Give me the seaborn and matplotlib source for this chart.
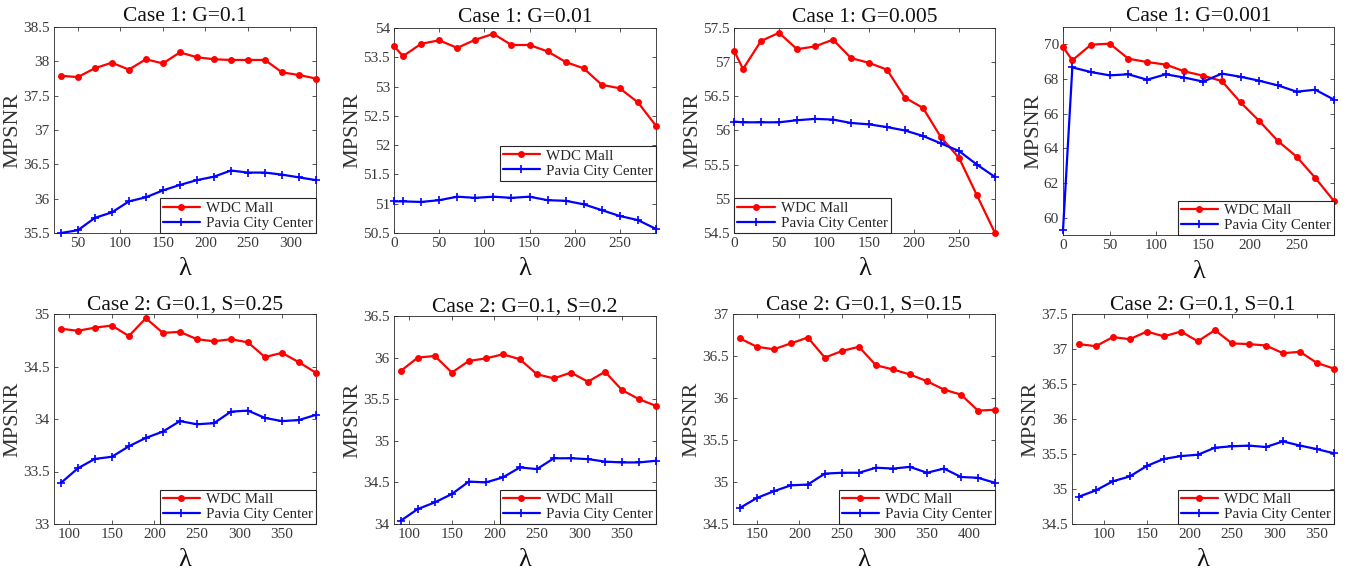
import numpy as np
import pandas as pd
import matplotlib
matplotlib.use("Agg")
import matplotlib.pyplot as plt
from matplotlib.ticker import FuncFormatter
import seaborn as sns

# ---------------- data ----------------
titles = ["Case 1: G=0.1", "Case 1: G=0.01", "Case 1: G=0.005", "Case 1: G=0.001",
          "Case 2: G=0.1, S=0.25", "Case 2: G=0.1, S=0.2", "Case 2: G=0.1, S=0.15", "Case 2: G=0.1, S=0.1"]
series_names = ["WDC Mall", "Pavia City Center"]

lam_p1 = [30, 50, 70, 90, 110, 130, 150, 170, 190, 210, 230, 250, 270, 290, 310, 330]
lam_p2 = [0, 10, 30, 50, 70, 90, 110, 130, 150, 170, 190, 210, 230, 250, 270, 290]
lam_p3 = lam_p2
lam_p4 = lam_p2
lam_p5 = [90, 110, 130, 150, 170, 190, 210, 230, 250, 270, 290, 310, 330, 350, 370, 390]
lam_p6 = lam_p5
lam_p7 = [130, 150, 170, 190, 210, 230, 250, 270, 290, 310, 330, 350, 370, 390, 410, 430]
lam_p8 = [70, 90, 110, 130, 150, 170, 190, 210, 230, 250, 270, 290, 310, 330, 350, 370]

wdc_p1 = [37.79, 37.77, 37.90, 37.98, 37.88, 38.03, 37.97, 38.13, 38.06, 38.03, 38.02, 38.02, 38.02, 37.84, 37.80, 37.75]
pav_p1 = [35.50, 35.54, 35.72, 35.80, 35.96, 36.02, 36.12, 36.20, 36.27, 36.32, 36.41, 36.38, 36.38, 36.35, 36.31, 36.27]
wdc_p2 = [53.69, 53.52, 53.73, 53.79, 53.66, 53.80, 53.90, 53.71, 53.71, 53.60, 53.42, 53.31, 53.03, 52.97, 52.73, 52.33]
pav_p2 = [51.04, 51.04, 51.03, 51.06, 51.12, 51.10, 51.12, 51.10, 51.12, 51.06, 51.05, 50.99, 50.89, 50.79, 50.72, 50.57]
wdc_p3 = [57.17, 56.90, 57.31, 57.43, 57.19, 57.23, 57.33, 57.06, 56.99, 56.89, 56.48, 56.33, 55.90, 55.60, 55.05, 54.50]
pav_p3 = [56.13, 56.12, 56.12, 56.12, 56.15, 56.17, 56.16, 56.11, 56.09, 56.05, 56.00, 55.92, 55.81, 55.70, 55.50, 55.32]
wdc_p4 = [69.85, 69.08, 69.98, 70.04, 69.17, 68.98, 68.83, 68.44, 68.19, 67.88, 66.65, 65.58, 64.42, 63.52, 62.29, 60.96]
pav_p4 = [59.27, 68.67, 68.40, 68.21, 68.27, 67.96, 68.27, 68.08, 67.85, 68.31, 68.13, 67.90, 67.63, 67.27, 67.38, 66.81]
wdc_p5 = [34.86, 34.84, 34.87, 34.89, 34.79, 34.96, 34.82, 34.83, 34.76, 34.74, 34.76, 34.73, 34.59, 34.63, 34.54, 34.44]
pav_p5 = [33.39, 33.53, 33.62, 33.64, 33.74, 33.82, 33.88, 33.98, 33.95, 33.96, 34.07, 34.08, 34.01, 33.98, 33.99, 34.04]
wdc_p6 = [35.84, 36.00, 36.02, 35.82, 35.96, 35.99, 36.04, 35.98, 35.80, 35.75, 35.82, 35.71, 35.83, 35.61, 35.50, 35.42]
pav_p6 = [34.04, 34.18, 34.26, 34.36, 34.51, 34.50, 34.56, 34.68, 34.66, 34.79, 34.79, 34.78, 34.75, 34.74, 34.74, 34.76]
wdc_p7 = [36.71, 36.61, 36.58, 36.65, 36.72, 36.48, 36.56, 36.61, 36.39, 36.34, 36.28, 36.20, 36.10, 36.04, 35.85, 35.86]
pav_p7 = [34.69, 34.81, 34.89, 34.96, 34.97, 35.10, 35.11, 35.11, 35.17, 35.16, 35.18, 35.11, 35.16, 35.06, 35.05, 34.99]
wdc_p8 = [37.07, 37.04, 37.17, 37.14, 37.25, 37.18, 37.25, 37.11, 37.27, 37.08, 37.07, 37.05, 36.94, 36.96, 36.80, 36.72]
pav_p8 = [34.89, 34.98, 35.11, 35.18, 35.33, 35.43, 35.47, 35.49, 35.59, 35.61, 35.62, 35.60, 35.68, 35.62, 35.57, 35.51]

xticks_list = [[50, 100, 150, 200, 250, 300], [0, 50, 100, 150, 200, 250], [0, 50, 100, 150, 200, 250],
               [0, 50, 100, 150, 200, 250], [100, 150, 200, 250, 300, 350], [100, 150, 200, 250, 300, 350],
               [150, 200, 250, 300, 350, 400], [100, 150, 200, 250, 300, 350]]
yticks_list = [[35.5, 36, 36.5, 37, 37.5, 38, 38.5], [50.5, 51, 51.5, 52, 52.5, 53, 53.5, 54],
               [54.5, 55, 55.5, 56, 56.5, 57, 57.5], [60, 62, 64, 66, 68, 70],
               [33, 33.5, 34, 34.5, 35], [34, 34.5, 35, 35.5, 36, 36.5],
               [34.5, 35, 35.5, 36, 36.5, 37], [34.5, 35, 35.5, 36, 36.5, 37, 37.5]]
ylims = [(35.5, 38.5), (50.5, 54), (54.5, 57.5), (59, 71), (33, 35), (34, 36.5), (34.5, 37), (34.5, 37.5)]
xlims = [(22, 330), (0, 290), (0, 290), (0, 290), (82, 390), (82, 390), (122, 430), (62, 370)]

lams = [lam_p1, lam_p2, lam_p3, lam_p4, lam_p5, lam_p6, lam_p7, lam_p8]
wdcs = [wdc_p1, wdc_p2, wdc_p3, wdc_p4, wdc_p5, wdc_p6, wdc_p7, wdc_p8]
pavs = [pav_p1, pav_p2, pav_p3, pav_p4, pav_p5, pav_p6, pav_p7, pav_p8]

# ---------------- style ----------------
sns.set_style("ticks")
plt.rcParams["font.family"] = ["Liberation Serif", "DejaVu Serif"]

W, H = 1349, 575
fig = plt.figure(figsize=(W / 100, H / 100), dpi=100)

# axes boxes in pixels: (left, top, right, bottom)
boxes = [(54, 27, 316, 233), (394, 28, 656, 233), (734, 28, 995, 233), (1063, 27, 1334, 235),
         (54, 314, 316, 524), (394, 316, 656, 524), (733, 314, 995, 524), (1072, 314, 1334, 524)]

legend_locs = [("lower right", None), ("lower right", (1.0, 0.255)), ("lower left", None), ("lower right", None),
               ("lower right", None), ("lower right", None), ("lower right", None), ("lower right", None)]

fmt = FuncFormatter(lambda v, p: f"{v:g}")
tick_col = "#3a3a3a"

for i in range(8):
    l, t, r, b = boxes[i]
    ax = fig.add_axes([l / W, 1 - b / H, (r - l) / W, (b - t) / H])
    df_w = pd.DataFrame({"lam": lams[i], "val": wdcs[i]})
    df_p = pd.DataFrame({"lam": lams[i], "val": pavs[i]})
    sns.lineplot(data=df_w, x="lam", y="val", color="#ff0000", linestyle="-",
                 marker="o", markersize=5, markeredgewidth=0, markeredgecolor="#ff0000",
                 linewidth=1.6, ax=ax, label=series_names[0], clip_on=False, zorder=3)
    sns.lineplot(data=df_p, x="lam", y="val", color="#0000ff", linestyle="-",
                 marker="+", markersize=5.5, markeredgewidth=1.2, markeredgecolor="#0000ff",
                 linewidth=1.6, ax=ax, label=series_names[1], clip_on=False, zorder=3)
    ax.set_xlim(*xlims[i])
    ax.set_ylim(*ylims[i])
    ax.set_xticks(xticks_list[i])
    ax.set_yticks(yticks_list[i])
    ax.yaxis.set_major_formatter(fmt)
    ax.tick_params(direction="in", top=True, right=True, length=3, width=0.6,
                   labelsize=11, colors=tick_col, labelcolor=tick_col, pad=3)
    for s in ax.spines.values():
        s.set_visible(True)
        s.set_color("#262626")
        s.set_linewidth(0.6)
    ax.set_title(titles[i], fontsize=15.5, pad=4 if i < 4 else 3, color="#111111")
    ax.set_xlabel("λ", fontsize=19, labelpad=6, color="#111111")
    ax.set_ylabel("MPSNR", fontsize=16, labelpad=0.5, color="#333333")
    loc, anchor = legend_locs[i]
    kw = dict(loc=loc, fontsize=10.8, frameon=True, fancybox=False, edgecolor="#262626",
              borderpad=0.2, labelspacing=0.1, handlelength=2.5, handletextpad=0.4,
              borderaxespad=0.0)
    if anchor is not None:
        kw["bbox_to_anchor"] = anchor
    leg = ax.legend(**kw)
    leg.get_frame().set_linewidth(0.8)
    leg.get_frame().set_facecolor("white")
    leg.get_frame().set_alpha(1)
    leg.set_zorder(5)

fig.savefig("out.png", dpi=100)
